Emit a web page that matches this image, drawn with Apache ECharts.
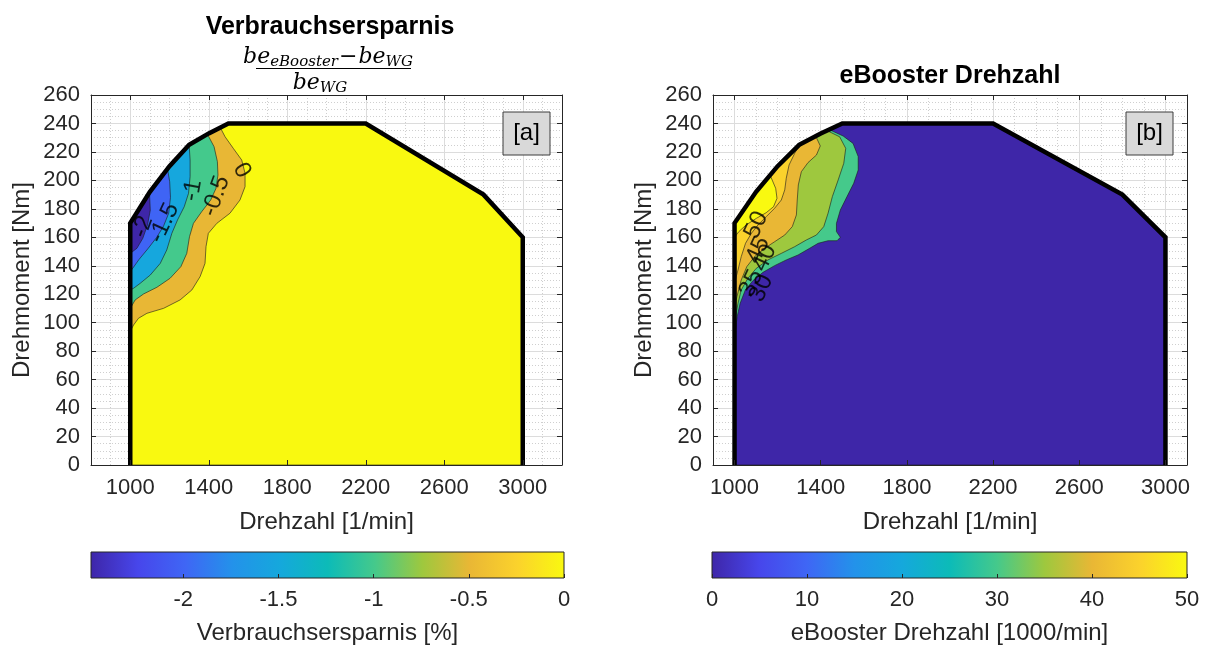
<!DOCTYPE html>
<html><head><meta charset="utf-8">
<script src="https://cdn.jsdelivr.net/npm/echarts@6/dist/echarts.min.js"></script>
<style>html,body{margin:0;padding:0;background:#fff}#c{width:1207px;height:646px}</style>
</head><body><div id="c"></div>
<script>
// ---------------- data ----------------
const outline = [[1000,0],[1000,170],[1100,192],[1200,210],[1300,225],[1400,233],[1500,240],[2200,240],[2800,190],[3000,160],[3000,0]];
const xTicks = [1000,1400,1800,2200,2600,3000];
const climA = [-2.485, 0];
const levelsA = [0, -0.5, -1, -1.5, -2];
const cbTicksA = [-2, -1.5, -1, -0.5, 0];
const climB = [0, 50];
const levelsB = [30, 35, 40, 45, 50];
const cbTicksB = [0, 10, 20, 30, 40, 50];

// Verbrauchsersparnis contour lines (rpm, Nm), from outline to left edge
const lineA0   = [[1458,237.3],[1483,230.7],[1525,222.5],[1568,214.3],[1585,205],[1585,195.6],[1559,186.2],[1508,176.9],[1441,169.8],[1398,162.8],[1386,153.4],[1381,141.7],[1356,132.4],[1314,123],[1254,116],[1170,110.1],[1085,106.6],[1042,103.1],[1017,98.4],[1000,94]];
const lineAm05 = [[1393,232.5],[1427,223.7],[1444,213.2],[1447,203.8],[1437,194.4],[1410,186.2],[1364,178],[1322,169.8],[1302,160.5],[1288,148.7],[1258,139.4],[1203,131.2],[1136,124.9],[1068,120.2],[1025,116],[1000,110]];
const lineAm1  = [[1300,225],[1305,214.3],[1305,202.6],[1297,190.9],[1275,181.5],[1241,172.2],[1212,162.8],[1186,151.1],[1153,141.7],[1102,133.5],[1051,127.7],[1017,124.2],[1000,123]];
const lineAm15 = [[1190,208],[1201,199],[1205,188],[1196,177],[1170,168],[1135,160],[1090,152],[1045,144.5],[1014,138.5],[1000,136]];
const lineAm2  = [[1098,191.6],[1102,179],[1088,168.7],[1064,159.3],[1034,152.3],[1000,148.7]];
const labelsA = [[1064,167.5,'-2'],[1173,170,'-1.5'],[1318,193,'-1'],[1437,189,'-0.5'],[1568,207,'0']];

// eBooster Drehzahl contour lines
const lineB30 = [[1439,235.7],[1504,231.2],[1550,226],[1574,216.7],[1574,207.3],[1553,197.9],[1522,188.6],[1491,179.2],[1473,169.8],[1473,164],[1491,160],[1476,157.6],[1434,157.6],[1388,155.8],[1349,152.3],[1295,147.6],[1240,144.1],[1186,140.1],[1132,135.4],[1085,129.5],[1050,123],[1026,113.6],[1012,104.2],[1005,96],[1000,92]];
const lineB35 = [[1429,235],[1488,230.6],[1516,222.5],[1507,212],[1481,200.3],[1454,188.6],[1434,176.9],[1414,167.5],[1380,161.6],[1333,158.1],[1279,153.4],[1217,148.7],[1155,144.1],[1101,138.2],[1062,131.2],[1031,123],[1016,113.6],[1005,104.2],[1000,100]];
const lineB40 = [[1377,231],[1398,224.2],[1380,217.8],[1341,212.5],[1310,206.1],[1296,196.8],[1291,186.2],[1287,175.7],[1268,167.5],[1233,161.6],[1186,156.9],[1140,152.3],[1093,146.4],[1057,139.4],[1031,130],[1011,118.3],[1000,110]];
const lineB45 = [[1302,225.3],[1279,219],[1253,210.8],[1240,201.5],[1233,193.3],[1217,186.2],[1186,180.4],[1147,174.5],[1109,168.7],[1078,162.8],[1051,155.8],[1031,146.4],[1016,137],[1000,128]];
const lineB50 = [[1165,203.7],[1191,194.4],[1197,187.4],[1181,181.5],[1147,177.3],[1101,173.3],[1054,168.7],[1020,164],[1000,160]];
const labelsB = [[1101,168.6,'50'],[1109,151,'45'],[1140,145.5,'40'],[1078,127.7,'35'],[1124,124.2,'30']];

// ---------------- style ----------------
const labelRotA = [70, 65, 80, 70, -60];
const labelRotB = [65, 65, 65, 65, 65];
const parulaStops = [[0,'#3e26a8'],[0.1,'#4746eb'],[0.2,'#3f66f5'],[0.3,'#2392ea'],[0.4,'#15a8dc'],[0.5,'#0cbbb8'],[0.6,'#45c98b'],[0.7,'#9ec83e'],[0.8,'#e9b735'],[0.9,'#fbd22c'],[1,'#f9f910']];
const FONT = "'Liberation Sans', Arial, Helvetica, sans-serif";
const SERIF = "'DejaVu Serif', 'Liberation Serif', serif";
const TXT = '#262626';

function hex(c){return [1,3,5].map(i=>parseInt(c.substr(i,2),16));}
function parula(t){
  t = Math.max(0, Math.min(1, t));
  for (let i=1;i<parulaStops.length;i++){
    if (t <= parulaStops[i][0] + 1e-9){
      const a=parulaStops[i-1], b=parulaStops[i];
      const f=(t-a[0])/(b[0]-a[0]); const ca=hex(a[1]), cb=hex(b[1]);
      return 'rgb('+ca.map((v,k)=>Math.round(v+(cb[k]-v)*f)).join(',')+')';
    }
  }
  return parulaStops[parulaStops.length-1][1];
}
function regionPoly(line){
  const x0 = line[0][0], ye = line[line.length-1][1];
  const chain = outline.filter(v => v[0] < x0 && v[1] > ye);
  return line.concat(chain);
}
const linesA = [lineA0, lineAm05, lineAm1, lineAm15, lineAm2];
const linesB = [lineB30, lineB35, lineB40, lineB45, lineB50];
const normA = v => (v - climA[0])/(climA[1]-climA[0]);
const normB = v => (v - climB[0])/(climB[1]-climB[0]);
const polysA = [{pts: outline, color: parula(normA(0))}].concat(linesA.map((l,i)=>({
  pts: regionPoly(l), color: parula(normA(i+1<levelsA.length ? levelsA[i+1] : climA[0]))})));
const polysB = [{pts: outline, color: parula(normB(climB[0]))}].concat(linesB.map((l,i)=>({
  pts: regionPoly(l), color: parula(normB(levelsB[i]))})));

// ---------------- axes ----------------
const xAxes = [], yAxes = [];
const mainX = {}, mainY = {};
function plotAxes(g, xmin, xmax){
  const bx = {gridIndex:g, type:'value', min:xmin, max:xmax};
  const by = {gridIndex:g, type:'value', min:0, max:260};
  mainX[g] = xAxes.length;
  xAxes.push(Object.assign({}, bx, {position:'bottom', z:10,
    name:'Drehzahl [1/min]', nameLocation:'middle', nameGap:45,
    nameTextStyle:{fontSize:24, color:TXT, fontFamily:FONT},
    axisLine:{show:true, onZero:false, lineStyle:{color:TXT, width:1}},
    axisTick:{show:true, inside:true, length:5, customValues:xTicks, lineStyle:{color:TXT}},
    axisLabel:{show:true, customValues:xTicks, margin:12, fontSize:22, color:TXT, fontFamily:FONT, formatter:v=>String(v)},
    splitLine:{show:false}}));
  xAxes.push(Object.assign({}, bx, {position:'top', z:10,
    axisLine:{show:true, onZero:false, lineStyle:{color:TXT, width:1}},
    axisTick:{show:true, inside:true, length:5, customValues:xTicks, lineStyle:{color:TXT}},
    axisLabel:{show:false}, splitLine:{show:false}}));
  xAxes.push(Object.assign({}, bx, {interval:100, z:0,
    axisLine:{show:false}, axisTick:{show:false}, axisLabel:{show:false},
    splitLine:{show:true, lineStyle:{color:'#cfcfcf', width:1, type:[1,2]}}}));
  xAxes.push(Object.assign({}, bx, {z:0,
    axisLine:{show:false}, axisTick:{show:false, customValues:xTicks}, axisLabel:{show:false, customValues:xTicks},
    splitLine:{show:true, lineStyle:{color:'#dcdcdc', width:1}}}));

  mainY[g] = yAxes.length;
  yAxes.push(Object.assign({}, by, {position:'left', interval:20, z:10,
    name:'Drehmoment [Nm]', nameLocation:'middle', nameGap:57,
    nameTextStyle:{fontSize:24, color:TXT, fontFamily:FONT},
    axisLine:{show:true, onZero:false, lineStyle:{color:TXT, width:1}},
    axisTick:{show:true, inside:true, length:5, lineStyle:{color:TXT}},
    axisLabel:{show:true, margin:11, fontSize:22, color:TXT, fontFamily:FONT, formatter:v=>String(v)},
    splitLine:{show:false}}));
  yAxes.push(Object.assign({}, by, {position:'right', interval:20, z:10,
    axisLine:{show:true, onZero:false, lineStyle:{color:TXT, width:1}},
    axisTick:{show:true, inside:true, length:5, lineStyle:{color:TXT}},
    axisLabel:{show:false}, splitLine:{show:false}}));
  yAxes.push(Object.assign({}, by, {interval:5, z:0,
    axisLine:{show:false}, axisTick:{show:false}, axisLabel:{show:false},
    splitLine:{show:true, lineStyle:{color:'#cfcfcf', width:1, type:[1,2]}}}));
  yAxes.push(Object.assign({}, by, {interval:20, z:0,
    axisLine:{show:false}, axisTick:{show:false}, axisLabel:{show:false},
    splitLine:{show:true, lineStyle:{color:'#dcdcdc', width:1}}}));
}
function cbarAxes(g, clim, ticks, name){
  mainX[g] = xAxes.length;
  xAxes.push({gridIndex:g, type:'value', min:clim[0], max:clim[1], position:'bottom', z:10,
    name:name, nameLocation:'middle', nameGap:43,
    nameTextStyle:{fontSize:24, color:TXT, fontFamily:FONT},
    axisLine:{show:false},
    axisTick:{show:true, inside:true, length:4, customValues:ticks, lineStyle:{color:TXT}},
    axisLabel:{show:true, customValues:ticks, margin:11, fontSize:22, color:TXT, fontFamily:FONT, formatter:v=>String(v)},
    splitLine:{show:false}});
  mainY[g] = yAxes.length;
  yAxes.push({gridIndex:g, type:'value', min:0, max:1, show:false});
}
plotAxes(0, 800, 3200);
plotAxes(1, 900, 3100);
cbarAxes(2, climA, cbTicksA, 'Verbrauchsersparnis [%]');
cbarAxes(3, climB, cbTicksB, 'eBooster Drehzahl [1000/min]');

// ---------------- series ----------------
function fillSeries(g, polys){
  return {type:'custom', xAxisIndex:mainX[g], yAxisIndex:mainY[g], z:2, silent:true, animation:false,
    data: polys.map(p=>p.pts[0]),
    renderItem:function(params, api){
      const p = polys[params.dataIndex];
      return {type:'polygon', shape:{points:p.pts.map(q=>api.coord(q))},
        style:{fill:p.color, stroke:'#1a1a1a', lineWidth:0.6}};
    }};
}
function outlineSeries(g){
  return {type:'line', xAxisIndex:mainX[g], yAxisIndex:mainY[g], z:4, silent:true, animation:false,
    data: outline, symbol:'none', lineStyle:{color:'#000', width:4.5, join:'miter'}};
}
function labelSeries(g, labels, rots){
  return {type:'scatter', xAxisIndex:mainX[g], yAxisIndex:mainY[g], z:5, silent:true, animation:false,
    symbolSize:1, itemStyle:{color:'rgba(0,0,0,0)'},
    label:{show:true, position:'inside', formatter:'{b}', fontSize:24, color:'#000', fontFamily:FONT},
    data: labels.map((l,i)=>({value:[l[0],l[1]], name:l[2], label:{rotate:rots[i]}}))};
}
function cbarSeries(g, clim){
  return {type:'custom', xAxisIndex:mainX[g], yAxisIndex:mainY[g], z:2, silent:true, animation:false,
    data:[[clim[0],0]],
    renderItem:function(params, api){
      const p0 = api.coord([clim[0],1]), p1 = api.coord([clim[1],0]);
      return {type:'rect', shape:{x:p0[0], y:p0[1], width:p1[0]-p0[0], height:p1[1]-p0[1]},
        style:{fill:{type:'linear', x:0, y:0, x2:1, y2:0, colorStops:parulaStops.map(s=>({offset:s[0], color:s[1]}))},
          stroke:TXT, lineWidth:1}};
    }};
}

const richMath = {
  b:{fontSize:22, fontFamily:SERIF, fontStyle:'italic', fill:'#000', color:'#000', lineHeight:26},
  s:{fontSize:15, fontFamily:SERIF, fontStyle:'italic', fill:'#000', color:'#000', lineHeight:15, padding:[11,0,0,0]},
  m:{fontSize:22, fontFamily:SERIF, fill:'#000', color:'#000', lineHeight:26, padding:[0,1,0,1]}
};
const chart = echarts.init(document.getElementById('c'));
chart.setOption({
  backgroundColor:'#fff',
  animation:false,
  grid:[
    {left:91, top:95, width:471, height:370, outerBoundsMode:'none', containLabel:false},
    {left:713, top:95, width:474, height:370, outerBoundsMode:'none', containLabel:false},
    {left:91, top:552, width:473, height:26, outerBoundsMode:'none', containLabel:false},
    {left:712, top:552, width:475, height:26, outerBoundsMode:'none', containLabel:false}
  ],
  xAxis:xAxes, yAxis:yAxes,
  series:[
    fillSeries(0, polysA), outlineSeries(0), labelSeries(0, labelsA, labelRotA),
    fillSeries(1, polysB), outlineSeries(1), labelSeries(1, labelsB, labelRotB),
    cbarSeries(2, climA), cbarSeries(3, climB)
  ],
  graphic:[
    {type:'text', x:330, y:27, style:{text:'Verbrauchsersparnis', fontSize:25, fontWeight:'bold', fontFamily:FONT, fill:'#000', align:'center', verticalAlign:'middle', textAlign:'center', textVerticalAlign:'middle'}},
    {type:'text', x:328, y:57, style:{text:'{b|be}{s|eBooster}{m|−}{b|be}{s|WG}', fill:'#000', align:'center', verticalAlign:'middle', textAlign:'center', textVerticalAlign:'middle', rich:richMath}},
    {type:'line', shape:{x1:256, y1:68.5, x2:411, y2:68.5}, style:{stroke:'#000', lineWidth:1}},
    {type:'text', x:320, y:83, style:{text:'{b|be}{s|WG}', fill:'#000', align:'center', verticalAlign:'middle', textAlign:'center', textVerticalAlign:'middle', rich:richMath}},
    {type:'text', x:950, y:76, style:{text:'eBooster Drehzahl', fontSize:25, fontWeight:'bold', fontFamily:FONT, fill:'#000', align:'center', verticalAlign:'middle', textAlign:'center', textVerticalAlign:'middle'}},
    {type:'rect', shape:{x:503, y:112, width:47, height:43}, style:{fill:'#d9d9d9', stroke:'#3c3c3c', lineWidth:1}, z:20},
    {type:'text', x:526.5, y:133.5, z:21, style:{text:'[a]', fontSize:24, fontFamily:FONT, fill:'#000', align:'center', verticalAlign:'middle', textAlign:'center', textVerticalAlign:'middle'}},
    {type:'rect', shape:{x:1126, y:112, width:47, height:43}, style:{fill:'#d9d9d9', stroke:'#3c3c3c', lineWidth:1}, z:20},
    {type:'text', x:1149.5, y:133.5, z:21, style:{text:'[b]', fontSize:24, fontFamily:FONT, fill:'#000', align:'center', verticalAlign:'middle', textAlign:'center', textVerticalAlign:'middle'}}
  ]
});
</script></body></html>
